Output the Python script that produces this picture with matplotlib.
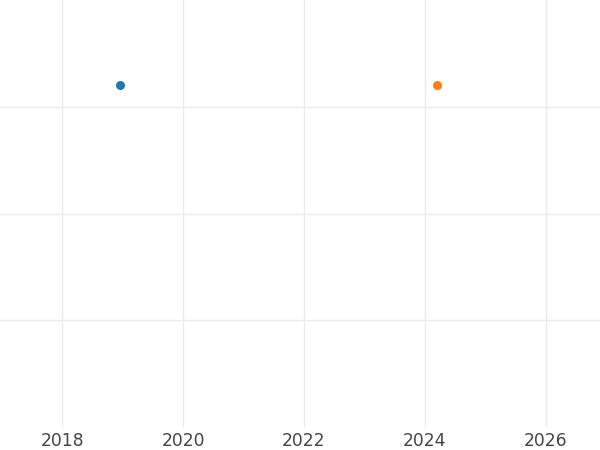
import numpy as np
import matplotlib.pyplot as plt

# datos
anios = [2018.96, 2024.21]
valores = [3.2, 3.2]
colores = ["#1f77b4", "#ff7f0e"]
ticks_x = [2018, 2020, 2022, 2024, 2026]
ticks_y = [1, 2, 3]

fig = plt.figure(figsize=(6, 4.5), dpi=100)
ax = fig.add_axes([0, 1 - 427 / 450, 1, 427 / 450])

for x, y, c in zip(anios, valores, colores):
    ax.plot([x], [y], "o", color=c, markersize=6.5, markeredgewidth=0, zorder=3)

ax.set_xlim(2016.97, 2026.9)
ax.set_ylim(0, 4)
ax.set_xticks(ticks_x)
ax.set_xticklabels([str(t) for t in ticks_x])
ax.set_yticks(ticks_y)
ax.set_yticklabels([])
ax.grid(True, color="#ebebeb", linewidth=1.0)
ax.set_axisbelow(True)
ax.tick_params(axis="both", length=0)
ax.tick_params(axis="x", labelsize=12.3, labelcolor="#444444", pad=3.5)
for s in ax.spines.values():
    s.set_visible(False)

fig.savefig("out.png", dpi=100)
